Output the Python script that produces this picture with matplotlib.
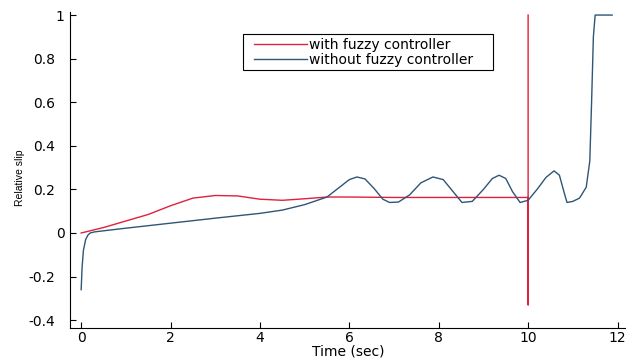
import matplotlib
matplotlib.use("Agg")
import matplotlib.pyplot as plt
import matplotlib.transforms as mtransforms
from matplotlib.patches import Rectangle
from matplotlib import font_manager

plt.rcParams['font.family'] = ['DejaVu Sans']

# without fuzzy controller
t_without = [0, 0.02, 0.05, 0.1, 0.15, 0.2, 0.3, 0.5, 1.0, 2.0, 3.0, 4.0, 4.5, 5.0, 5.5,
             5.75, 6.0, 6.17, 6.35, 6.55, 6.75, 6.9, 7.1, 7.35, 7.6, 7.87, 8.1, 8.3, 8.52,
             8.75, 9.0, 9.2, 9.35, 9.5, 9.65, 9.82, 10.0, 10.2, 10.4, 10.58, 10.7, 10.8,
             10.87, 11.0, 11.15, 11.3, 11.38, 11.42, 11.46, 11.5, 11.88]
s_without = [-0.26, -0.16, -0.08, -0.03, -0.01, 0.0, 0.005, 0.01, 0.022, 0.045, 0.068, 0.09,
             0.105, 0.13, 0.165, 0.205, 0.245, 0.257, 0.248, 0.205, 0.155, 0.14, 0.142,
             0.175, 0.23, 0.257, 0.245, 0.195, 0.14, 0.145, 0.2, 0.25, 0.265, 0.25, 0.19,
             0.14, 0.15, 0.2, 0.255, 0.285, 0.265, 0.19, 0.14, 0.145, 0.16, 0.21, 0.33, 0.6,
             0.9, 1.0, 1.0]

# with fuzzy controller
t_with = [0, 0.5, 1.0, 1.5, 2.0, 2.5, 3.0, 3.5, 4.0, 4.5, 5.0, 5.5, 6.0, 7.0, 8.0, 9.0,
          10.0, 10.0, 10.0]
s_with = [0, 0.025, 0.055, 0.085, 0.125, 0.16, 0.172, 0.17, 0.155, 0.15, 0.157, 0.165,
          0.165, 0.163, 0.163, 0.163, 0.163, -0.33, 1.0]

x_ticks = [0, 2, 4, 6, 8, 10, 12]
y_ticks = [-0.4, -0.2, 0, 0.2, 0.4, 0.6, 0.8, 1]
y_tick_labels = ['-0.4', '-0.2', '0', '0.2', '0.4', '0.6', '0.8', '1']

names = {f.name for f in font_manager.fontManager.ttflist}
narrow = 'Liberation Sans Narrow' if 'Liberation Sans Narrow' in names else 'Liberation Sans'

W, H = 626, 360
fig = plt.figure(figsize=(W/100, H/100), dpi=100)
ax = fig.add_axes([70/W, 1 - 328/H, 1 - 70/W, (328 - 12)/H])

red = '#e0203c'
blue = '#2f5577'
ax.plot(t_with, s_with, color=red, lw=1.0, label='with fuzzy controller')
ax.plot(t_without, s_without, color=blue, lw=1.0, label='without fuzzy controller')

ax.set_xlim(-0.25, 12.19)
ax.set_ylim(-0.436, 1.014)
ax.set_xticks(x_ticks)
ax.set_yticks(y_ticks)
ax.set_yticklabels(y_tick_labels)
ax.tick_params(direction='in', length=4, width=0.8, labelsize=10)
ax.tick_params(axis='x', pad=2)
ax.tick_params(axis='y', pad=11)
for lab in ax.get_yticklabels():
    if lab.get_text() in ('0', '1'):
        lab.set_transform(lab.get_transform() +
                          mtransforms.ScaledTranslation(10/100, 0, fig.dpi_scale_trans))
for s in ['top', 'right']:
    ax.spines[s].set_visible(False)
ax.set_xlabel('Time (sec)', fontsize=10, labelpad=0)
ax.set_ylabel('Relative slip', fontsize=7.5, family=[narrow, 'DejaVu Sans'])
ax.yaxis.set_label_coords((25 - 70)/556, (328 - 178)/316)

# legend frame and entries
frame = Rectangle((243/W, 1 - 70/H), 250/W, 36/H, transform=fig.transFigure,
                  facecolor='white', edgecolor='black', linewidth=0.8,
                  zorder=4, clip_on=False)
ax.add_patch(frame)
leg = ax.legend(loc='upper left', bbox_to_anchor=(251/W, 1 - 35/H),
                bbox_transform=fig.transFigure, fontsize=10, frameon=False,
                handlelength=3.8, handletextpad=0.15,
                borderpad=0.2, labelspacing=0.1, borderaxespad=0)
leg.set_zorder(6)

fig.savefig('out.png', dpi=100)
